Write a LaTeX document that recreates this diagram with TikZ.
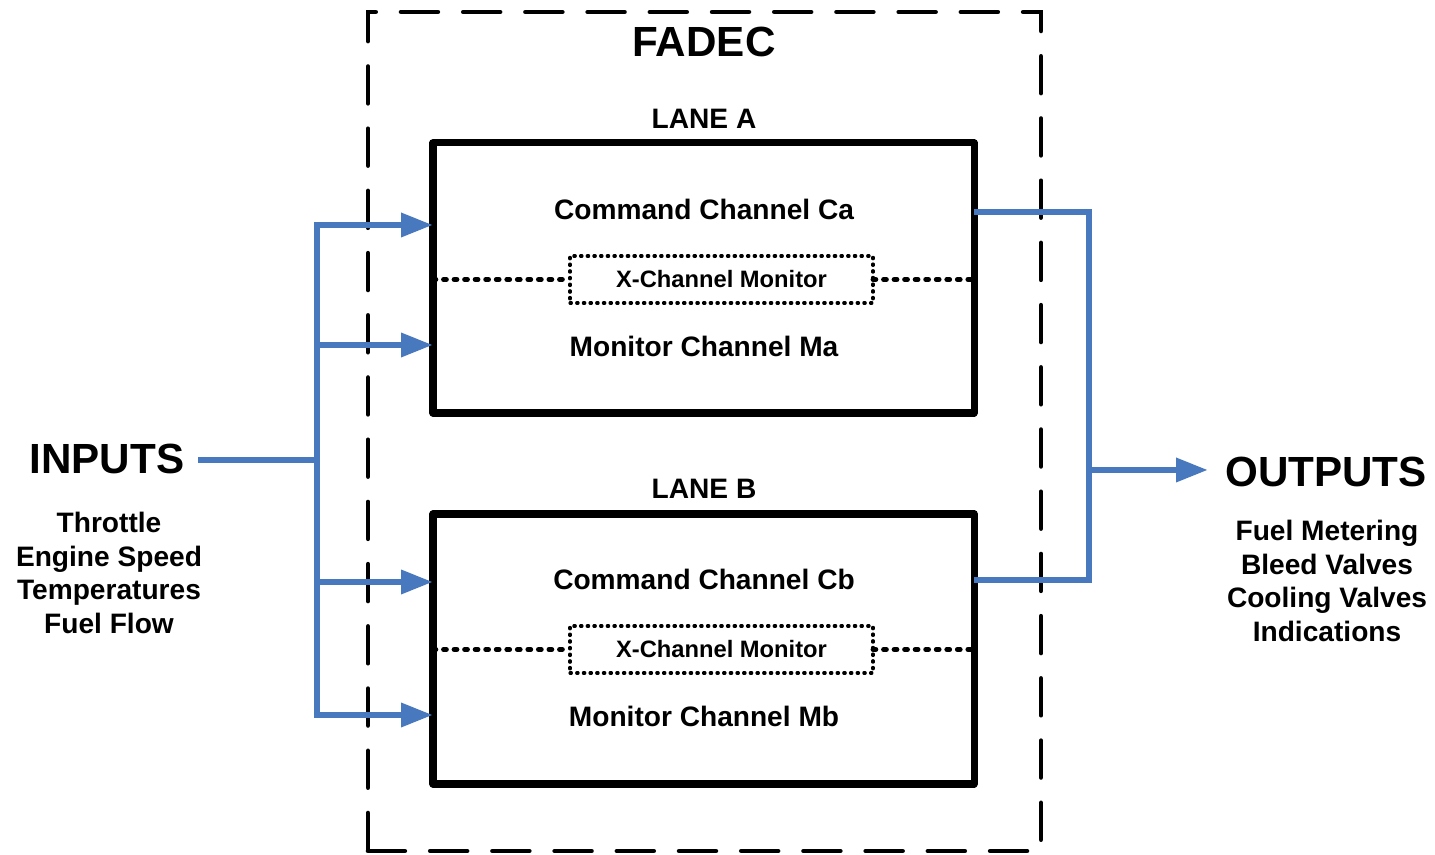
\documentclass[tikz,border=0pt]{standalone}
\usepackage{fontspec}
\setmainfont{Liberation Sans}
\usetikzlibrary{arrows.meta,positioning}
\definecolor{flowblue}{RGB}{72,120,190}

\begin{document}
\begin{tikzpicture}[x=1cm,y=1cm]
	\useasboundingbox (0,0) rectangle (14.35,8.55);
	\tikzstyle{every node}=[font=\bfseries\fontsize{8}{9.6}\selectfont,inner sep=0pt,outer sep=0pt]
	\tikzset{TitleStyle/.style = {font=\bfseries\fontsize{12}{14}\selectfont}}
	\tikzset{LaneStyle/.style = {draw=black,line width=2pt,line join=round,minimum width=5.41cm,minimum height=2.70cm}}
	\tikzset{MonitorStyle/.style = {draw=black,line width=0.9pt,line cap=round,dash pattern=on 0.4pt off 1.5pt,minimum width=3.03cm,minimum height=0.47cm,font=\bfseries\fontsize{6.75}{8}\selectfont}}
	\tikzset{CrossStyle/.style = {line width=1.4pt,line cap=round,dash pattern=on 0.8pt off 2.2pt}}
	\tikzset{FlowStyle/.style = {draw=flowblue,line width=1.85pt}}
	\tikzset{FlowArrow/.style = {FlowStyle,-{Triangle[length=3.2mm,width=2.3mm]}}}
	\tikzset{ListStyle/.style = {align=center,anchor=north}}
	% FADEC frame
	\node[draw=black,line width=1.3pt,line cap=round,dash pattern=on 10.5pt off 7.2pt,minimum width=6.73cm,minimum height=8.39cm] (fadec) at (7.045,4.235) {};
	\node[TitleStyle] (fadectitle) at (7.04,8.13) {FADEC};
	% lane A
	\node[LaneStyle] (laneA) at (7.035,5.77) {};
	\node (laneAtitle) at (7.04,7.36) {LANE A};
	\node (cmdA) at (7.04,6.46) {Command Channel Ca};
	\node[MonitorStyle] (xmonA) at (7.215,5.755) {X-Channel Monitor};
	\node (monA) at (7.04,5.09) {Monitor Channel Ma};
	\draw[CrossStyle] (laneA.west |- xmonA.west) -- (xmonA.west);
	\draw[CrossStyle] (xmonA.east) -- (laneA.east |- xmonA.east);
	% lane B
	\node[LaneStyle] (laneB) at (7.035,2.06) {};
	\node (laneBtitle) at (7.04,3.66) {LANE B};
	\node (cmdB) at (7.04,2.76) {Command Channel Cb};
	\node[MonitorStyle] (xmonB) at (7.215,2.055) {X-Channel Monitor};
	\node (monB) at (7.04,1.39) {Monitor Channel Mb};
	\draw[CrossStyle] (laneB.west |- xmonB.west) -- (xmonB.west);
	\draw[CrossStyle] (xmonB.east) -- (laneB.east |- xmonB.east);
	% inputs
	\node[TitleStyle] (inputs) at (1.07,3.96) {INPUTS};
	\node[ListStyle] (inlist) at (1.09,3.43) {Throttle\\Engine Speed\\Temperatures\\Fuel Flow};
	\coordinate (inA1) at (3.17,6.30);
	\coordinate (inA2) at (3.17,5.10);
	\coordinate (inB1) at (3.17,2.73);
	\coordinate (inB2) at (3.17,1.40);
	\draw[FlowStyle,line cap=rect] (inA1) -- (inB2);
	\draw[FlowStyle] (1.98,3.95) coordinate (infeed) -- (infeed -| inA1);
	\draw[FlowArrow] (inA1) -- (inA1 -| laneA.west);
	\draw[FlowArrow] (inA2) -- (inA2 -| laneA.west);
	\draw[FlowArrow] (inB1) -- (inB1 -| laneB.west);
	\draw[FlowArrow] (inB2) -- (inB2 -| laneB.west);
	% outputs
	\node[TitleStyle] (outputs) at (13.26,3.83) {OUTPUTS};
	\node[ListStyle] (outlist) at (13.27,3.35) {Fuel Metering\\Bleed Valves\\Cooling Valves\\Indications};
	\coordinate (outA) at (9.74,6.43);
	\coordinate (outB) at (9.74,2.75);
	\coordinate (outbus) at (10.89,3.85);
	\draw[FlowStyle] (outA) -- (outA -| outbus) -- (outB -| outbus) -- (outB);
	\draw[FlowArrow] (outbus) -- (12.08,3.85) coordinate (outtip);
\end{tikzpicture}
\end{document}
